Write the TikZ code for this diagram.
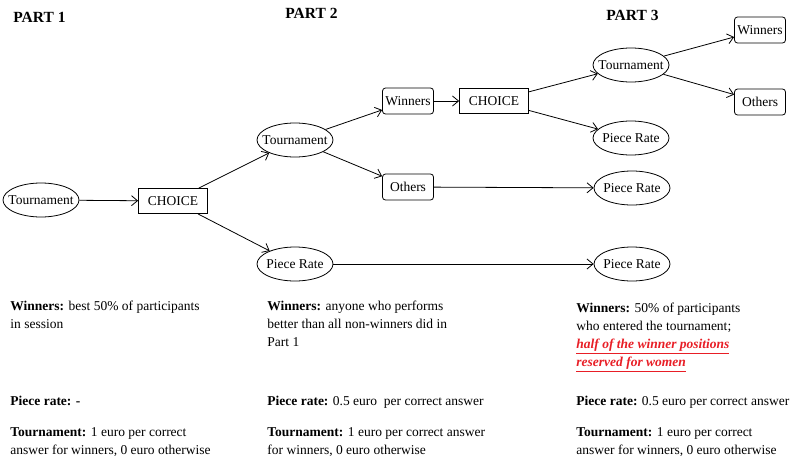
\documentclass[tikz,border=0pt]{standalone}
\usepackage{fontspec}
\setmainfont{Liberation Serif}
\usetikzlibrary{shapes.geometric,arrows.meta}
\definecolor{womenred}{RGB}{232,30,38}
\begin{document}
\begin{tikzpicture}
        [x=1pt,y=-1pt,line width=0.8pt,
         >={Straight Barb[length=6pt,width=10pt]},
         oval/.style={draw, ellipse, inner xsep=-6pt, inner ysep=0pt, minimum width=76pt, minimum height=34pt, font=\fontsize{13.5}{16}\selectfont},
         box/.style={draw, rectangle, inner sep=0pt, minimum width=69pt, minimum height=25pt, font=\fontsize{13.5}{16}\selectfont},
         rbox/.style={draw, rectangle, rounded corners=3pt, inner sep=0pt, minimum width=51pt, minimum height=26pt, font=\fontsize{13.5}{16}\selectfont},
         title/.style={anchor=west, inner sep=0pt, font=\fontsize{15.5}{18}\selectfont\bfseries},
         note/.style={anchor=north west, align=left, inner sep=0pt, font=\fontsize{13.5}{18}\selectfont}]
      \useasboundingbox (0,0) rectangle (792,458);

      % headings
      \node[title] (h1) at (13,17) {PART 1};
      \node[title] (h2) at (285,13) {PART 2};
      \node[title] (h3) at (606,15) {PART 3};

      % part 1
      \node[oval] (t1) at (41,200) {Tournament};
      \node[box]  (c1) at (173,201) {CHOICE};

      % part 2
      \node[oval] (t2) at (295,140) {Tournament};
      \node[oval] (p2) at (295,264) {Piece Rate};
      \node[rbox] (w2) at (408,101) {Winners};
      \node[rbox] (o2) at (408,187) {Others};
      \node[box]  (c2) at (494,101) {CHOICE};

      % part 3
      \node[oval] (t3) at (631,65) {Tournament};
      \node[oval] (p3a) at (631,138) {Piece Rate};
      \node[oval] (p3b) at (632,188) {Piece Rate};
      \node[oval] (p3c) at (632,264) {Piece Rate};
      \node[rbox] (w3) at (760,30) {Winners};
      \node[rbox] (o3) at (760,102) {Others};

      \foreach \from/\to in {t1/c1, c1/t2, c1/p2, t2/w2, t2/o2, w2/c2, c2/t3, c2/p3a, o2/p3b, p2/p3c, t3/w3, t3/o3}
        \draw[->] (\from) -- (\to);

      % notes
      \node[note] (n1w) at (10,301) {\textbf{Winners:} best 50\% of participants\\in session};
      \node[note] (n2w) at (267,301) {\textbf{Winners:} anyone who performs\\better than all non-winners did in\\Part 1};
      \node[note] (n3w) at (576,303) {\textbf{Winners:} 50\% of participants\\who entered the tournament;\\
        \textcolor{womenred}{\underline{\textbf{\textit{half of the winner positions}}}}\\
        \textcolor{womenred}{\underline{\textbf{\textit{reserved for women}}}}};

      \node[note] (n1p) at (10,396) {\textbf{Piece rate: -}};
      \node[note] (n2p) at (267,396) {\textbf{Piece rate:} 0.5 euro\ \ per correct answer};
      \node[note] (n3p) at (576,396) {\textbf{Piece rate:} 0.5 euro per correct answer};

      \node[note] (n1t) at (10,427) {\textbf{Tournament:} 1 euro per correct\\answer for winners, 0 euro otherwise};
      \node[note] (n2t) at (267,427) {\textbf{Tournament:} 1 euro per correct answer\\for winners, 0 euro otherwise};
      \node[note] (n3t) at (576,427) {\textbf{Tournament:} 1 euro per correct\\answer for winners, 0 euro otherwise};
    \end{tikzpicture}
\end{document}
